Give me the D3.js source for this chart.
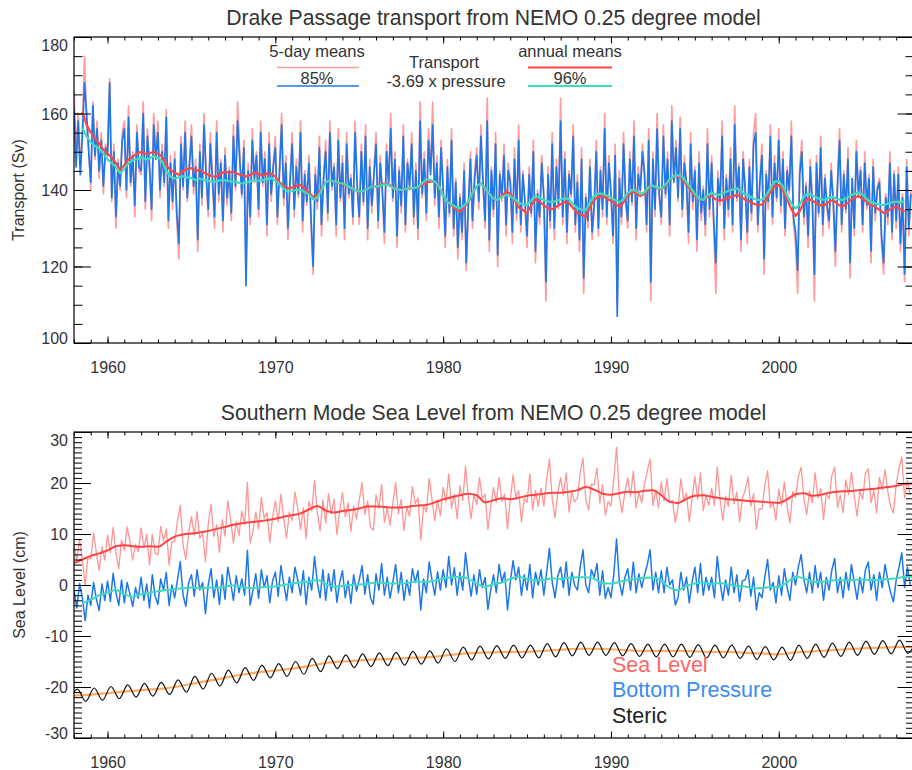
<!DOCTYPE html>
<html><head><meta charset="utf-8">
<script src="https://cdn.jsdelivr.net/npm/d3@7"></script>
<style>
body{margin:0;background:#fff}
svg text{font-family:"Liberation Sans",Arial,Helvetica,sans-serif;fill:#333}
.tick text{font-size:16px;fill:#333}
.tick line{stroke:#000}
</style>
</head><body>
<svg id="c" width="912" height="770"></svg>
<script>
// ---------------- DATA ----------------
const yearStart = 1958, yearEnd = 2008;
const majorYears = [1960, 1970, 1980, 1990, 2000];
const minorYears = d3.range(1958, 2009, 1);
const transportTicks = [100, 120, 140, 160, 180];
const seaLevelTicks = [-30, -20, -10, 0, 10, 20, 30];
const topTitle = "Drake Passage transport from NEMO 0.25 degree model";
const bottomTitle = "Southern Mode Sea Level from NEMO 0.25 degree model";

// 5-day transport (Sv), 8 samples per year from 1958.0
const transport5d = [
166,150,160,146,156,175,158,151, 140,163,148,158,143,155,139,152,
150,169,137,152,130,148,140,155, 158,138,162,141,150,133,157,145,
144,163,135,156,147,132,160,149, 158,138,152,141,161,130,149,135,
150,132,122,154,140,158,137,147, 157,139,148,124,152,136,160,143,
133,155,142,130,158,137,148,129, 151,136,146,132,157,140,163,150,
138,153,120,147,131,156,142,150, 133,158,141,150,128,155,137,147,
154,131,146,160,136,149,127,143, 155,133,148,138,158,129,145,136,
149,131,118,146,135,154,128,144, 153,132,158,140,147,128,156,137,
149,127,155,138,144,131,158,142, 131,152,136,157,127,148,134,145,
155,130,149,139,126,152,141,160, 137,150,125,146,134,157,129,148,
140,155,131,147,127,163,138,150, 132,156,145,163,136,149,130,153,
141,125,148,133,156,128,143,122, 139,127,147,119,135,150,130,144,
151,135,157,141,130,164,124,146, 133,155,120,145,137,152,128,147,
143,126,151,132,157,129,145,136, 125,146,133,153,121,140,131,149,
139,111,146,130,155,127,148,135, 164,131,150,126,145,138,157,129,
144,124,151,113,139,130,148,127, 135,153,128,146,133,160,131,149,
140,126,152,110,145,131,155,137, 130,150,136,158,127,146,139,152,
145,129,156,111,150,133,160,138, 131,157,138,150,128,162,143,153,
137,159,133,149,141,126,155,135, 146,124,150,132,141,128,156,133,
149,130,113,145,136,158,127,144, 133,151,129,162,137,147,124,150,
141,126,148,132,155,160,129,143, 152,118,145,135,157,131,149,137,
156,134,150,128,146,139,158,131, 126,113,146,153,131,142,125,148,
138,111,149,133,154,128,144,135, 130,147,136,120,142,156,129,145,
134,151,117,143,128,153,138,146, 129,150,135,144,121,148,132,141,
143,126,118,139,131,150,127,145, 130,146,124,139,116,148,128,140];

// 5-day transport estimated as -3.69 x pressure (Sv), 8 per year from 1958.0
const pressure5d = [
161,146,158,144,154,168,160,150, 142,162,149,156,145,153,141,151,
149,168,138,150,133,147,141,153, 156,140,159,142,149,136,155,146,
145,160,137,154,146,135,157,148, 155,140,150,142,159,132,147,137,
148,134,126,152,141,155,138,146, 154,141,146,127,150,138,157,144,
135,152,143,133,155,139,147,132, 149,138,145,134,154,141,158,148,
139,151,115,145,133,153,143,149, 135,155,142,148,131,152,139,146,
151,133,145,157,138,147,130,142, 152,135,146,139,155,132,144,137,
147,133,120,144,137,151,131,143, 150,134,155,141,146,131,153,138,
147,130,152,139,143,133,155,141, 133,150,137,154,130,146,136,144,
152,132,147,140,129,150,142,156, 138,148,128,145,136,154,131,147,
141,152,133,145,130,158,139,148, 134,153,144,157,138,147,133,151,
140,128,146,134,153,130,142,125, 138,129,145,121,136,148,132,143,
149,137,154,142,132,158,127,145, 135,152,123,144,138,149,131,145,
142,129,148,134,153,131,144,137, 128,144,134,150,124,139,133,147,
138,116,144,132,152,130,146,136, 158,133,148,129,144,139,154,131,
142,127,148,117,138,132,146,129, 136,150,130,145,135,156,133,147,
139,128,149,107,143,133,152,138, 132,148,137,154,130,144,140,150,
144,131,153,116,148,135,156,139, 133,154,139,148,131,158,142,151,
138,156,135,147,142,129,152,137, 145,127,147,134,140,131,152,135,
147,132,121,143,137,154,130,143, 135,148,131,157,138,146,127,148,
140,129,146,134,152,155,131,142, 149,122,144,137,154,133,147,138,
153,136,148,130,145,140,154,133, 129,119,144,150,133,141,128,146,
137,118,147,134,151,131,143,136, 132,145,137,124,141,153,131,144,
135,148,121,143,130,150,139,145, 131,147,136,143,124,146,134,140,
142,128,121,138,133,147,129,144, 132,144,126,138,118,146,130,139];

// annual running means, 4 per year from 1958.5
const transportAnnual = [
160.5,157,155,153.5, 152.2,150.5,149.5,148.5, 147,145.2,146.5,148, 148.7,149.5,150,149.5,
149.6,150,149.5,148.7, 146.5,145.2,144.5,144, 145,145.5,145.7,145, 145.3,144.5,144,143.6,
143.5,144.3,144.8,144.5, 144.8,144.2,143.9,143.5, 144,144.5,144.2,143.8, 144.3,144.2,143.5,142,
141,140.4,140.6,141, 141.3,140.5,139.3,138.2, 138.6,140.5,142,142.6, 142.2,141.8,141.7,141.2,
140.5,140,139.6,139.8, 140.4,140.9,140.9,141.2, 141.7,141.5,140.8,140.2, 140,140.3,140.4,140.5,
140.6,141.3,142,142.2, 142.2,141,138.5,136.9, 136,135,134.3,135.5, 136.8,139,141,141.7,
140.5,139,137.8,137.4, 138.5,139.6,139,137.5, 135.5,134.8,134,136, 137.6,137,136,135.2,
135,135.6,136.3,136.9, 136.6,135.2,134,133.5, 133,135.5,137.5,138.2, 138.4,137.8,137.2,136.5,
135.5,136.8,138.5,139.5, 139.2,138.4,139,140.5, 141,140.5,140.2,141, 142.5,143.5,143.6,143,
141.5,140,138.5,137.6, 137.4,138.2,138.5,137.5, 137.2,137.5,138,138.2, 138.8,138.2,137.5,137,
136.4,136,136.2,137.5, 139.5,141,141.3,140, 137.5,135,133.2,134.5, 136.8,137.8,137.2,136.5,
136,136.1,137,137.4, 136.3,135.6,136.2,137.2, 138,138.4,137.8,136.8, 136,135.6,134.8,134,
134.5,135.3,135.6,135, 134.3];
const pressureAnnual = [
156.2,154,152.5,151.5, 150.9,149.5,148,147, 146,144.4,145.5,147, 147.8,148,148.5,148,
148.3,148.8,148.5,147.5, 145,143.5,143,143.3, 143.6,143.3,143.1,142.6, 143,142.5,142.4,142.2,
142.2,142.6,142.5,142.3, 142.2,142,141.7,141.9, 142.3,142.5,142.4,142.6, 142.8,143.1,142.5,141.5,
140.3,139.6,139.8,140, 140,139.5,138.8,137.6, 138,140,142,142.6, 142.3,141.9,141.7,141.3,
140.6,140,139.6,139.8, 140.3,140.9,140.9,141.1, 141.5,141.3,140.6,140.2, 140,140.2,140.5,140.5,
140.8,141.8,142.8,142.6, 142.2,141,138.5,136.9, 136.2,135.6,135.2,136, 137,139.2,141,141.7,
140.5,139,137.8,137.4, 138.2,138.7,138.4,137.6, 136.6,136.3,136.1,137.3, 138.5,138,137.4,137,
136.9,137.2,137.5,137.8, 137.6,136.3,135.2,134.9, 134.7,136.8,138.5,139.1, 139,138.6,138,137.4,
136.8,137.7,139.2,140, 139.8,138.9,139.4,140.8, 141.2,140.6,140.4,141.4, 142.8,143.6,143.9,143.4,
142,140.6,139,137.8, 137.4,138.6,139.2,138.8, 138.8,139.3,139.8,140.1, 140.4,139.7,138.8,138.4,
137.8,137.4,137.5,138.6, 140.5,142.2,142.3,141, 138.6,136.5,135.2,136.2, 138.3,139.1,138.6,138,
137.6,137.4,138,138.2, 137.6,137.4,137.8,138.5, 139,139.3,138.8,137.6, 136.8,136.5,136.2,136.1,
136.4,136.8,137,136.8, 137];

// 5-day sea level and bottom pressure (cm), 6 per year from 1958.0
const seaLevel5d = [
7.7,4.8,9.0,5.0,-0.1,5.5, 5.1,10.2,6.3,2.9,7.5,4.9, 9.8,6.4,11.3,6.3,3.2,8.8, 6.8,11.4,8.5,4.9,8.0,6.5,
11.2,7.3,9.9,4.0,9.9,6.3, 5.9,11.5,8.7,11.0,3.9,8.5, 8.5,12.6,15.6,7.8,5.0,10.3, 13.4,9.8,14.4,9.2,10.1,4.6,
12.0,15.8,9.5,11.8,6.4,12.8, 9.6,16.5,12.9,8.2,12.4,9.7, 14.5,11.9,20.1,8.2,10.5,14.3, 11.0,17.2,13.1,14.2,8.3,13.2,
16.5,12.4,17.8,13.0,9.2,14.3, 12.6,18.2,15.1,10.9,15.1,9.1, 16.4,14.5,20.5,14.2,10.6,16.7, 12.1,17.9,13.9,16.9,9.9,14.4,
18.1,13.4,16.1,10.5,15.5,12.9, 16.7,20.1,13.9,16.5,11.4,10.7, 17.7,15.1,19.7,12.3,15.2,11.7, 16.0,20.1,14.0,16.8,10.7,15.3,
13.5,19.3,16.0,17.1,8.8,15.5, 14.3,20.9,16.8,12.6,16.6,13.6, 19.2,16.3,21.8,15.0,17.8,13.0, 19.5,16.6,23.3,17.3,13.0,17.8,
15.7,21.1,17.0,17.8,10.9,15.3, 19.1,16.2,21.1,16.4,17.8,11.0, 16.7,21.6,17.2,18.5,12.4,17.0, 16.2,21.8,14.7,18.5,15.4,19.0,
15.5,20.6,24.7,16.8,13.2,18.1, 21.0,17.6,22.0,14.3,18.2,16.3, 17.0,22.1,24.9,16.8,14.7,19.8, 19.6,22.9,16.1,19.7,13.7,16.4,
15.5,20.6,27.0,17.3,14.2,18.3, 21.0,17.4,22.3,15.1,18.2,16.1, 19.8,22.4,24.7,15.6,18.5,15.1, 20.2,16.5,20.9,16.2,16.6,12.3,
15.2,20.8,16.7,18.0,12.4,17.0, 21.3,16.9,22.0,14.6,17.5,15.6, 19.0,15.6,23.1,16.8,12.7,17.3, 15.4,21.5,15.9,18.2,12.4,17.0,
18.6,21.2,15.4,17.9,10.9,14.9, 14.9,19.5,22.4,15.2,16.1,12.7, 18.8,15.6,20.2,15.3,12.2,18.3, 17.1,21.2,23.1,16.9,13.8,18.4,
16.1,22.0,17.1,18.9,12.8,17.9, 16.9,21.5,23.1,15.2,17.6,14.2, 20.6,17.7,22.1,17.4,13.5,18.4, 16.8,21.9,22.8,16.1,18.5,14.1,
21.1,18.7,22.6,18.4,15.3,14.1, 19.8,22.9,25.1,17.1,20.5,17.6];
const bottomPressure5d = [
-1.0,-4.5,0.3,-2.5,-7.0,-2.0, -4.0,0.5,-2.8,-5.0,0.2,-3.0, 0.8,-3.2,2.3,-1.5,-4.0,1.0, -3.5,0.5,-1.8,-4.2,-0.5,-2.6,
1.5,-3.0,0.2,-4.5,2.0,-2.2, -3.8,1.2,-1.0,2.5,-4.0,0.0, -2.5,1.0,4.6,-2.0,-4.2,0.5, 2.0,-2.2,3.0,-1.0,0.5,-5.6,
0.0,3.2,-2.5,1.0,-3.8,2.0, -2.8,3.5,0.5,-3.0,1.8,-1.5, 1.2,-2.0,6.8,-3.9,-1.0,2.2, -2.6,3.0,-0.5,1.8,-3.5,0.8,
2.5,-2.2,3.8,0.2,-3.0,1.5, -1.5,3.5,1.0,-2.0,2.8,-3.8, 1.5,-1.0,5.6,0.5,-2.5,3.0, -3.0,2.2,-1.2,3.0,-3.4,0.5,
2.8,-2.5,0.8,-3.6,2.0,-1.2, 1.0,3.8,-1.8,2.0,-2.5,-3.8, 2.2,-1.0,4.2,-2.0,1.5,-2.6, 0.5,4.0,-1.5,2.5,-3.0,1.0,
-2.0,3.2,0.5,2.8,-4.9,1.2, -1.5,4.5,1.0,-2.0,2.6,-1.0, 3.0,-0.5,5.6,0.0,3.4,-2.0, 2.5,-1.0,6.3,1.5,-2.2,2.0,
-1.8,3.0,-0.5,1.5,-4.8,-1.0, 2.0,-1.5,4.0,0.5,2.5,-4.9, 0.5,4.8,1.0,3.5,-2.0,2.0, -1.0,4.0,-2.5,2.5,0.0,3.0,
-2.0,2.5,7.2,0.5,-2.5,1.8, 3.5,-0.5,4.5,-2.0,2.5,0.0, -1.0,3.5,6.9,0.0,-1.5,3.0, 1.5,4.2,-2.0,2.8,-2.6,-0.5,
-2.5,2.0,9.0,0.5,-2.0,1.5, 3.2,-1.0,4.5,-1.5,2.2,-0.5, 2.0,4.0,6.9,-1.0,2.5,-1.5, 2.8,-1.5,3.5,0.0,1.0,-3.9,
-2.5,2.5,-1.0,1.5,-3.5,0.5, 3.5,-1.5,4.2,-2.0,1.5,-1.0, 1.5,-2.5,5.6,0.5,-3.0,1.0, -2.0,3.5,-1.5,2.0,-3.2,0.8,
1.0,3.0,-2.2,1.5,-4.9,-1.5, -2.5,1.5,5.0,-1.0,0.5,-3.5, 1.8,-2.0,3.2,-0.5,-3.0,2.5, 0.0,3.5,6.0,1.0,-1.5,2.5,
-1.5,3.8,-0.5,2.5,-3.0,1.5, -1.0,3.0,5.2,-1.5,1.5,-2.5, 2.5,-1.0,4.0,0.5,-2.8,1.5, -1.5,3.0,4.5,-1.0,2.0,-3.0,
2.5,-0.5,4.0,1.0,-1.5,-3.3, 1.0,3.5,6.3,-0.5,3.5,0.0];

// annual means (cm), 2 per year
const seaLevelAnnual = [ // from 1958.0
4.3,5.0,5.7,6.2,6.8,7.6,7.8,7.6,7.5,7.6,
7.5,8.5,9.5,9.9,10.1,10.3,10.6,11.0,11.4,11.8,
12.1,12.3,12.5,12.7,13.0,13.4,13.7,14.05,14.8,15.5,
14.6,14.2,14.5,14.7,15.0,15.4,15.4,15.3,15.2,15.2,
15.4,15.6,15.7,16.2,16.8,17.2,17.6,17.9,17.6,16.2,
16.6,17.0,16.8,17.1,17.5,17.7,17.9,18.1,18.1,18.3,
18.6,19.2,18.7,17.9,17.7,18.0,18.3,18.2,18.5,18.6,
17.6,16.3,16.1,16.9,17.5,17.6,17.3,17.0,16.8,16.7,
16.5,16.4,16.3,16.2,16.1,16.8,17.8,18.0,17.5,17.7,
18.1,18.3,18.4,18.5,18.7,18.8,19.0,19.2,19.4,19.8,
19.9];
const bottomPressureAnnual = [ // from 1958.5
-3.5,-2.9,-2.0,-1.5,-1.0,-1.8,-2.3,-1.8,-1.5,-1.2,
-1.0,-0.8,-0.65,-0.5,-0.65,-0.5,-0.6,-0.3,-0.1,-0.4,
-0.6,-0.5,-0.35,-0.3,0.0,0.3,0.5,0.7,1.0,0.2,
-0.35,-0.2,0.0,0.1,0.2,0.5,0.4,0.3,0.3,0.5,
0.7,0.6,0.9,1.3,1.5,1.6,1.2,0.3,-0.35,0.2,
0.5,1.2,1.6,1.2,0.85,1.0,1.3,1.2,1.4,1.5,
1.5,1.2,0.4,0.3,0.6,1.0,1.2,1.4,1.45,0.8,
-0.5,-1.0,-0.2,0.3,0.5,0.2,0.4,0.1,-0.2,-0.3,
-0.65,-0.6,-0.4,-0.35,0.5,1.6,1.3,0.7,0.6,0.85,
1.0,0.9,1.0,1.1,1.0,1.0,1.2,1.3,1.6,1.6];

// steric sea level: seasonal peaks and troughs, every half year from 1957.7
const steric = [
-22.9,
-20.4,-22.8, -20.2,-22.6, -19.9,-22.3, -19.6,-22.0, -19.3,-21.8,
-19.1,-21.5, -18.6,-21.0, -17.9,-20.4, -17.3,-19.8, -16.7,-19.2,
-16.2,-18.7, -15.7,-18.2, -15.4,-17.9, -15.0,-17.5, -14.4,-17.0,
-13.9,-16.4, -13.7,-16.2, -13.5,-16.0, -13.3,-15.8, -13.2,-15.7,
-13.0,-15.5, -12.9,-15.3, -12.5,-15.0, -12.2,-14.7, -12.0,-14.5,
-11.9,-14.4, -11.8,-14.3, -11.8,-14.3, -11.5,-14.1, -11.3,-13.9,
-11.2,-13.8, -11.2,-13.8, -11.3,-13.9, -11.5,-14.0, -11.6,-14.1,
-11.6,-14.1, -11.6,-14.2, -11.7,-14.3, -11.8,-14.3, -11.8,-14.4,
-12.0,-14.6, -12.1,-14.7, -12.2,-14.8, -11.8,-14.4, -11.6,-14.2,
-11.4,-14.0, -11.2,-13.8, -11.0,-13.6, -10.9,-13.5, -10.8,-13.4,
-10.7];
// steric annual mean, yearly from 1958.0
const stericAnnual = [
-21.7,-21.5,-21.2,-20.9,-20.6,-20.4,-20.0,-19.4,-18.8,-18.2,
-17.6,-17.1,-16.8,-16.4,-15.9,-15.3,-15.0,-14.8,-14.6,-14.5,
-14.3,-14.2,-13.9,-13.5,-13.3,-13.2,-13.1,-13.1,-12.9,-12.7,
-12.5,-12.5,-12.6,-12.8,-12.9,-12.9,-12.9,-13.0,-13.1,-13.1,
-13.3,-13.4,-13.6,-13.2,-13.0,-12.8,-12.6,-12.4,-12.3,-12.2,
-12.1];

// ---------------- DRAWING ----------------
const svg = d3.select("#c");
const xLeft = 74, xRight = 913;
const x = d3.scaleLinear().domain([yearStart, yearEnd]).range([xLeft, xRight]);

const topP = {top: 37, bottom: 343};
const botP = {top: 432, bottom: 738};
const yT = d3.scaleLinear().domain([100, 180]).range([topP.bottom, topP.top]);
const yB = d3.scaleLinear().domain([-30, 30]).range([botP.bottom, botP.top]);

const defs = svg.append("defs");
function clip(id, p) {
  defs.append("clipPath").attr("id", id).append("rect")
    .attr("x", xLeft).attr("y", p.top).attr("width", xRight - xLeft).attr("height", p.bottom - p.top);
}
clip("clipT", topP); clip("clipB", botP);

function series(g, data, t0, step, y, color, width, curve) {
  const line = d3.line()
    .x((d, i) => x(t0 + i * step))
    .y(d => y(d))
    .curve(curve || d3.curveLinear);
  g.append("path").datum(data)
    .attr("d", line).attr("fill", "none")
    .attr("stroke", color).attr("stroke-width", width)
    .attr("stroke-linejoin", "round");
}

function axes(p, y, majorY, minorY, minorLen) {
  const g = svg.append("g");
  const bot = g.append("g").attr("transform", `translate(0,${p.bottom})`);
  bot.append("g").call(d3.axisBottom(x).tickValues(minorYears).tickSize(-3.5).tickSizeOuter(0).tickFormat(""));
  bot.append("g").call(d3.axisBottom(x).tickValues(majorYears).tickSize(-6.5).tickSizeOuter(0).tickPadding(18.6).tickFormat(d => String(d)));
  const top = g.append("g").attr("transform", `translate(0,${p.top})`);
  top.append("g").call(d3.axisTop(x).tickValues(minorYears).tickSize(-3.5).tickSizeOuter(0).tickFormat(""));
  top.append("g").call(d3.axisTop(x).tickValues(majorYears).tickSize(-6.5).tickSizeOuter(0).tickFormat(""));
  const left = g.append("g").attr("transform", `translate(${xLeft},0)`);
  left.append("g").call(d3.axisLeft(y).tickValues(minorY).tickSize(-minorLen).tickSizeOuter(0).tickFormat(""));
  const lm = left.append("g").call(d3.axisLeft(y).tickValues(majorY).tickSize(-17).tickSizeOuter(0).tickPadding(6).tickFormat(d => String(d)));
  lm.selectAll(".tick text").attr("dy", d => {
    const py = y(d);
    const c = Math.max(p.top + 7.5, Math.min(p.bottom - 5, py));
    return (c - py + 5.7) + "px";
  });
  const right = g.append("g").attr("transform", `translate(${xRight},0)`);
  right.append("g").call(d3.axisRight(y).tickValues(minorY).tickSize(-minorLen + 1).tickSizeOuter(0).tickFormat(""));
  right.append("g").call(d3.axisRight(y).tickValues(majorY).tickSize(-15.5).tickSizeOuter(0).tickFormat(""));
  g.selectAll(".domain").remove();
  g.append("rect").attr("x", xLeft).attr("y", p.top)
    .attr("width", xRight - xLeft).attr("height", p.bottom - p.top)
    .attr("fill", "none").attr("stroke", "#000").attr("stroke-width", 1.2);
}

// ---- top panel ----
const gT = svg.append("g").attr("clip-path", "url(#clipT)");
series(gT, transport5d, 1958, 1/8, yT, "#ff9c9c", 1.7);
series(gT, pressure5d, 1958, 1/8, yT, "#1f78e6", 1.7);
series(gT, transportAnnual, 1958.5, 0.25, yT, "#ff4646", 2.2);
series(gT, pressureAnnual, 1958.5, 0.25, yT, "#3ddcbc", 2.2);
axes(topP, yT, transportTicks, d3.range(100, 181, 5), 8.5);

svg.append("text").attr("x", (xLeft + xRight) / 2).attr("y", 25)
  .attr("text-anchor", "middle").style("font-size", "21.2px").text(topTitle);
svg.append("text").attr("transform", "translate(24,190) rotate(-90)")
  .attr("text-anchor", "middle").style("font-size", "16px").text("Transport (Sv)");

// legend top
const lg = svg.append("g").style("font-size", "16.5px");
lg.append("text").attr("x", 317).attr("y", 56.5).attr("text-anchor", "middle").text("5-day means");
lg.append("text").attr("x", 317).attr("y", 84).attr("text-anchor", "middle").text("85%");
lg.append("text").attr("x", 444).attr("y", 68.3).attr("text-anchor", "middle").text("Transport");
lg.append("text").attr("x", 446).attr("y", 87.3).attr("text-anchor", "middle").text("-3.69 x pressure");
lg.append("text").attr("x", 570).attr("y", 56.5).attr("text-anchor", "middle").text("annual means");
lg.append("text").attr("x", 570).attr("y", 84).attr("text-anchor", "middle").text("96%");
const legLines = [
  [277, 359, 67.5, "#ff9c9c", 1.5], [277, 359, 86, "#1f78e6", 1.5],
  [528, 612, 67.5, "#ff4646", 2], [528, 612, 86, "#3ddcbc", 2]];
legLines.forEach(l => lg.append("line").attr("x1", l[0]).attr("x2", l[1]).attr("y1", l[2]).attr("y2", l[2])
  .attr("stroke", l[3]).attr("stroke-width", l[4]));

// ---- bottom panel ----
const gB = svg.append("g").attr("clip-path", "url(#clipB)");
series(gB, seaLevel5d, 1958, 1/6, yB, "#ff9696", 1.3);
series(gB, seaLevelAnnual, 1958, 0.5, yB, "#ff4444", 2, d3.curveMonotoneX);
series(gB, bottomPressure5d, 1958, 1/6, yB, "#1f78e6", 1.5);
series(gB, bottomPressureAnnual, 1958.5, 0.5, yB, "#3ddcbc", 2, d3.curveMonotoneX);
series(gB, stericAnnual, 1958, 1, yB, "#ffac5c", 2.2, d3.curveMonotoneX);
series(gB, steric, 1957.7, 0.5, yB, "#111", 1.2, d3.curveMonotoneX);
axes(botP, yB, seaLevelTicks, d3.range(-30, 31, 1), 8);

svg.append("text").attr("x", (xLeft + xRight) / 2).attr("y", 420)
  .attr("text-anchor", "middle").style("font-size", "21.2px").text(bottomTitle);
svg.append("text").attr("transform", "translate(25,585) rotate(-90)")
  .attr("text-anchor", "middle").style("font-size", "16px").text("Sea Level (cm)");

const lb = svg.append("g").style("font-size", "21.5px");
lb.append("text").attr("x", 612).attr("y", 671.7).style("fill", "#ff6666").text("Sea Level");
lb.append("text").attr("x", 612).attr("y", 696.7).style("fill", "#3a8cf0").text("Bottom Pressure");
lb.append("text").attr("x", 612).attr("y", 723.3).style("fill", "#222").text("Steric");
</script>
</body></html>
